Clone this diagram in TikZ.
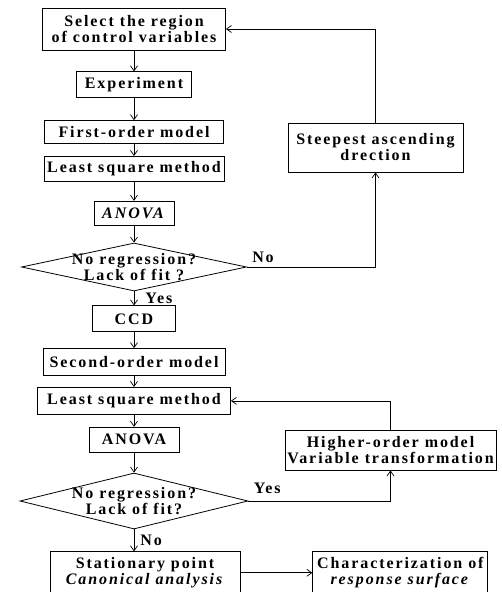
\documentclass[tikz,border=0pt]{standalone}
\usepackage{fontspec}
\setmainfont{Liberation Serif}[LetterSpace=12]
\usepackage{tikz}
\usetikzlibrary{shapes.geometric,arrows.meta,positioning}
\tikzset{
	rsmbox/.style={rectangle, draw=black, line width=0.8pt, align=center,
		font=\bfseries\fontsize{16}{16}\selectfont, inner sep=2pt},
	rsmtest/.style={diamond, draw=black, line width=0.8pt, inner sep=0pt},
	rsmlbl/.style={font=\bfseries\fontsize{16}{16}\selectfont, inner sep=1pt, align=center},
	rsmarr/.style={-{Straight Barb[length=5pt,width=7pt]}, line width=0.7pt}
}

\begin{document}
\begin{tikzpicture}[x=1pt, y=1pt, node distance=18pt]
	\useasboundingbox (0,0) rectangle (501,-592);
	% first-order stage
	\node[rsmbox, minimum width=183pt, minimum height=42pt] (sel) at (134,-29) {Select the region\\of control variables};
	\node[rsmbox, below=21pt of sel, minimum width=115pt, minimum height=26pt] (exper) {Experiment};
	\node[rsmbox, below=22pt of exper, minimum width=179pt, minimum height=23pt] (fom) {First-order model};
	\node[rsmbox, below=12pt of fom, minimum width=180pt, minimum height=25pt] (lsma) {Least square method};
	\node[rsmbox, below=19pt of lsma, minimum width=80pt, minimum height=24pt] (anovaa) {\textit{ANOVA}};
	\node[rsmtest, below=17pt of anovaa, minimum width=225pt, minimum height=48pt,
		label={[rsmlbl]center:No regression?\\Lack of fit ?}] (testa) {};
	\node[rsmbox, minimum width=175pt, minimum height=49pt] (steep) at (375.5,-147.5) {Steepest ascending\\drection};
	% second-order stage
	\node[rsmbox, below=14pt of testa, minimum width=83pt, minimum height=26pt] (ccd) {CCD};
	\node[rsmbox, below=16pt of ccd, minimum width=182pt, minimum height=27pt] (som) {Second-order model};
	\node[rsmbox, below=11pt of som, minimum width=193pt, minimum height=27pt] (lsmb) {Least square method};
	\node[rsmbox, below=12pt of lsmb, minimum width=90pt, minimum height=25pt] (anovab) {ANOVA};
	\node[rsmtest, below=20pt of anovab, minimum width=228pt, minimum height=56pt,
		label={[rsmlbl]center:No regression?\\Lack of fit?}] (testb) {};
	\node[rsmbox, minimum width=211pt, minimum height=40pt] (higher) at (390.5,-450) {Higher-order model\\Variable transformation};
	\node[rsmbox, below=22pt of testb, xshift=11pt, minimum width=190pt, minimum height=42pt] (stat) {Stationary point\\\textit{Canonical analysis}};
	\node[rsmbox, right=72pt of stat, minimum width=175pt, minimum height=42pt] (charac) {Characterization of\\\textit{response surface}};

	\draw[rsmarr] (sel) -- (exper);
	\draw[rsmarr] (exper) -- (fom);
	\draw[rsmarr] (fom) -- (lsma);
	\draw[rsmarr] (lsma) -- (anovaa);
	\draw[rsmarr] (anovaa) -- (testa);
	\draw[rsmarr] (testa) -- node[rsmlbl, right, xshift=10pt] {Yes} (ccd);
	\draw[rsmarr] (testa.east) -| node[rsmlbl, above right, pos=0, xshift=4pt, yshift=3pt] {No} (steep.south);
	\draw[rsmarr] (steep.north) |- (sel.east);
	\draw[rsmarr] (ccd) -- (som);
	\draw[rsmarr] (som) -- (lsmb);
	\draw[rsmarr] (lsmb) -- (anovab);
	\draw[rsmarr] (anovab) -- (testb);
	\draw[rsmarr] (testb.east) -| node[rsmlbl, above right, pos=0, xshift=4pt, yshift=6pt] {Yes} (higher.south);
	\draw[rsmarr] (higher.north) |- (lsmb.east);
	\draw[rsmarr] (testb.south) -- node[rsmlbl, right, xshift=5pt] {No} (testb.south |- stat.north);
	\draw[rsmarr] (stat) -- (charac);
\end{tikzpicture}
\end{document}
